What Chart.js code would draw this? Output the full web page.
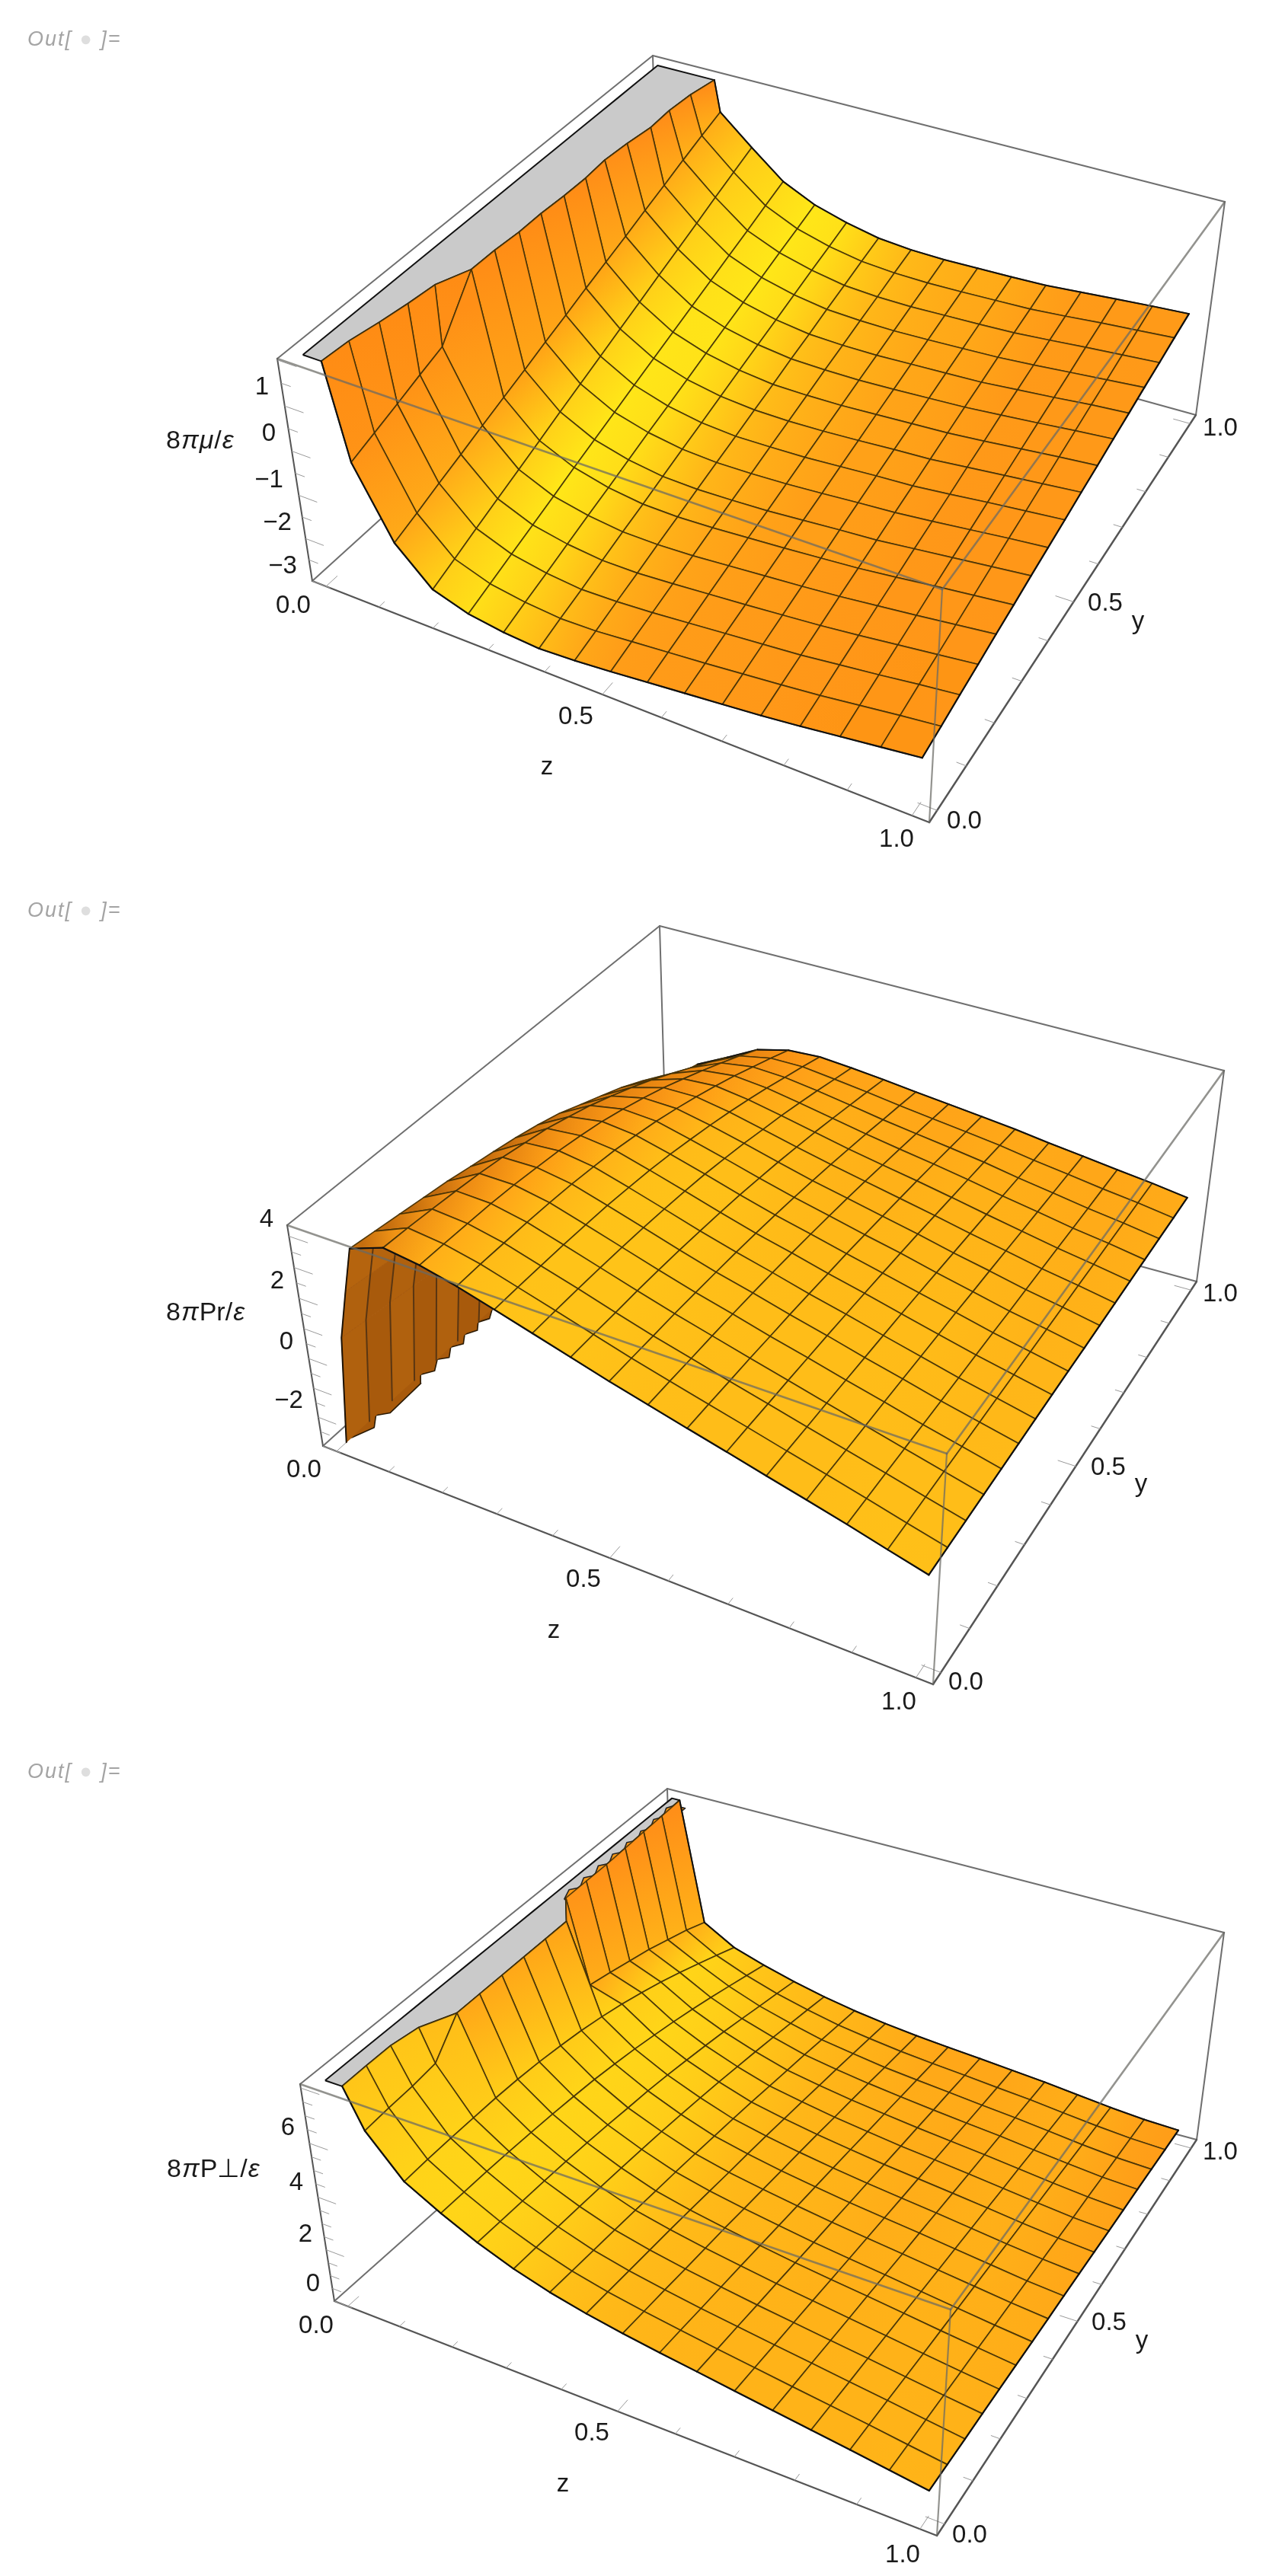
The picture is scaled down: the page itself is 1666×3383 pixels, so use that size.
<!DOCTYPE html>
<html>
<head>
<meta charset="utf-8">
<title>Out</title>
<script src="https://cdn.jsdelivr.net/npm/chart.js@4"></script>
<style>
  html, body { margin: 0; background: #fff; }
  #page { position: relative; width: 1666px; height: 3383px; overflow: hidden; }
  canvas { position: absolute; left: 0; }
  .out { position: absolute; left: 36px; font: italic 27px "Liberation Sans"; letter-spacing: 2px; color: #a4a4a4; }
  .out span { color: #dedede; }
</style>
</head>
<body>
<div id="page"></div>
<script>
// mesh positions along z (first rows of the Pr plot sit inside the drop at z -> 0)
var meshZ = [0.0625,0.125,0.1875,0.25,0.3125,0.375,0.4375,0.5,0.5625,0.625,0.6875,0.75,0.8125,0.875,0.9375,1];
var meshY = [0,0.0625,0.125,0.1875,0.25,0.3125,0.375,0.4375,0.5,0.5625,0.625,0.6875,0.75,0.8125,0.875,0.9375,1];
var dropZ = [0,0.022,0.043];

// 8 pi mu / epsilon, one row per meshZ, one column per meshY. 3 = above the plot range
var muValues = [
  [-0.06,0.12,0.30,0.49,0.67,3,3,3,3,3,3,3,3,3,3,3,3],
  [-1.60,-1.42,-1.23,-1.05,-0.86,-0.68,-0.50,-0.31,-0.13,0.06,0.24,0.42,0.61,0.79,0.98,1.16,1.33],
  [-2.38,-2.19,-1.99,-1.80,-1.61,-1.42,-1.22,-1.03,-0.84,-0.65,-0.46,-0.26,-0.07,0.12,0.32,0.51,0.70],
  [-2.64,-2.47,-2.30,-2.13,-1.96,-1.78,-1.61,-1.44,-1.27,-1.10,-0.93,-0.76,-0.59,-0.42,-0.25,-0.07,0.10],
  [-2.76,-2.60,-2.45,-2.29,-2.13,-1.98,-1.82,-1.66,-1.51,-1.35,-1.19,-1.03,-0.88,-0.72,-0.56,-0.41,-0.25],
  [-2.82,-2.67,-2.53,-2.38,-2.23,-2.09,-1.94,-1.79,-1.65,-1.50,-1.35,-1.20,-1.06,-0.91,-0.76,-0.62,-0.47],
  [-2.78,-2.65,-2.51,-2.38,-2.24,-2.11,-1.97,-1.84,-1.71,-1.57,-1.44,-1.30,-1.17,-1.03,-0.90,-0.76,-0.63],
  [-2.71,-2.58,-2.46,-2.33,-2.21,-2.08,-1.95,-1.83,-1.70,-1.58,-1.45,-1.32,-1.20,-1.07,-0.95,-0.82,-0.70],
  [-2.63,-2.51,-2.39,-2.27,-2.15,-2.03,-1.92,-1.80,-1.68,-1.56,-1.44,-1.32,-1.20,-1.08,-0.96,-0.84,-0.72],
  [-2.55,-2.44,-2.32,-2.21,-2.09,-1.98,-1.86,-1.75,-1.63,-1.52,-1.40,-1.29,-1.17,-1.06,-0.94,-0.83,-0.71],
  [-2.47,-2.36,-2.25,-2.14,-2.03,-1.92,-1.80,-1.69,-1.58,-1.47,-1.36,-1.25,-1.14,-1.03,-0.92,-0.81,-0.70],
  [-2.39,-2.28,-2.18,-2.07,-1.96,-1.86,-1.75,-1.64,-1.54,-1.43,-1.32,-1.21,-1.11,-1.00,-0.89,-0.79,-0.68],
  [-2.29,-2.19,-2.08,-1.98,-1.87,-1.77,-1.66,-1.56,-1.46,-1.35,-1.25,-1.14,-1.04,-0.94,-0.83,-0.73,-0.62],
  [-2.18,-2.08,-1.98,-1.88,-1.78,-1.67,-1.57,-1.47,-1.37,-1.27,-1.17,-1.07,-0.97,-0.87,-0.76,-0.66,-0.56],
  [-2.07,-1.97,-1.87,-1.78,-1.68,-1.58,-1.48,-1.38,-1.29,-1.19,-1.09,-0.99,-0.89,-0.80,-0.70,-0.60,-0.50],
  [-1.96,-1.87,-1.77,-1.68,-1.58,-1.49,-1.39,-1.30,-1.21,-1.11,-1.02,-0.92,-0.83,-0.73,-0.64,-0.54,-0.45]
];
// z where the mu surface leaves the top of the box, per meshY
var muClipZ = [0.033,0.037,0.047,0.055,0.061,0.085,0.086,0.09,0.09,0.093,0.094,0.091,0.095,0.102,0.1,0.104,0.114];

// 8 pi Pr / epsilon: the dropZ rows, then one row per meshZ
var prDrop = [
  [-3,-3,-3,-3,-3,-3,-3,-3,-3,-3,-3,-3,-3,-3,-3,-3,-3],
  [0.72,0.61,0.50,0.39,0.28,0.13,-0.01,-0.16,-0.34,-0.56,-0.86,-1.15,-1.45,-1.81,-2.25,-2.70,-2.92],
  [2.37,2.26,2.15,2.04,1.93,1.78,1.64,1.49,1.31,1.09,0.79,0.50,0.20,-0.16,-0.60,-1.05,-1.27]
];
var prValues = [
  [3.87,3.76,3.65,3.54,3.43,3.28,3.14,2.99,2.81,2.59,2.29,2.00,1.70,1.34,0.90,0.45,0.23],
  [4.28,4.24,4.18,4.11,4.03,3.92,3.77,3.62,3.40,3.17,2.89,2.59,2.26,1.90,1.52,1.14,0.75],
  [4.12,4.11,4.09,4.07,4.02,3.94,3.85,3.72,3.57,3.37,3.14,2.89,2.60,2.30,1.98,1.65,1.30],
  [3.85,3.86,3.85,3.84,3.81,3.76,3.68,3.59,3.45,3.30,3.11,2.90,2.67,2.42,2.14,1.86,1.56],
  [3.52,3.52,3.51,3.50,3.47,3.43,3.36,3.28,3.17,3.03,2.88,2.71,2.52,2.31,2.08,1.86,1.62],
  [3.18,3.18,3.17,3.15,3.12,3.08,3.02,2.95,2.86,2.74,2.61,2.45,2.30,2.12,1.93,1.73,1.53],
  [2.84,2.83,2.81,2.80,2.77,2.73,2.67,2.61,2.53,2.43,2.32,2.19,2.06,1.91,1.75,1.59,1.42],
  [2.50,2.49,2.47,2.46,2.43,2.39,2.35,2.29,2.22,2.14,2.04,1.94,1.82,1.70,1.56,1.43,1.29],
  [2.19,2.18,2.16,2.15,2.13,2.10,2.06,2.01,1.95,1.88,1.80,1.71,1.61,1.51,1.40,1.29,1.17],
  [1.88,1.87,1.85,1.84,1.81,1.79,1.75,1.71,1.67,1.61,1.55,1.48,1.41,1.33,1.24,1.15,1.05],
  [1.58,1.57,1.55,1.54,1.52,1.50,1.47,1.44,1.40,1.36,1.31,1.25,1.19,1.13,1.07,1.00,0.92],
  [1.27,1.26,1.24,1.23,1.21,1.19,1.17,1.15,1.12,1.08,1.04,1.00,0.96,0.91,0.86,0.81,0.76],
  [0.97,0.96,0.94,0.93,0.92,0.90,0.88,0.86,0.85,0.82,0.80,0.77,0.74,0.71,0.68,0.65,0.62],
  [0.66,0.65,0.64,0.63,0.61,0.60,0.59,0.58,0.57,0.55,0.54,0.53,0.52,0.50,0.49,0.48,0.47],
  [0.33,0.33,0.33,0.33,0.33,0.33,0.33,0.33,0.33,0.33,0.33,0.33,0.33,0.33,0.33,0.33,0.33],
  [0.01,0.02,0.03,0.04,0.05,0.06,0.07,0.08,0.09,0.09,0.10,0.11,0.12,0.13,0.14,0.15,0.16]
];
// where the Pr drop is cut by the floor of the box
var prFloorZ = [0,0.016,0,0.016,0.014,0,0.014,0,0.014,0,0.013,0,0.012,0,0.011,0,0.01];
var prFloorY = [0.013,0.053,0.08,0.097,0.186,0.205,0.225,0.253,0.267,0.292,0.31,0.333,0.353,0.373,0.391,0.415,0.432];

// 8 pi P_perp / epsilon. 9 = above the plot range
var ptValues = [
  [6.76,6.84,6.89,7.00,9,9,9,9,9,9,5.13,4.95,4.75,4.55,4.30,4.05,3.74],
  [5.35,5.39,5.41,5.42,5.42,5.39,5.33,5.23,5.11,4.95,4.76,4.53,4.28,4.00,3.70,3.39,3.07],
  [4.64,4.63,4.62,4.59,4.55,4.50,4.43,4.35,4.23,4.10,3.94,3.77,3.58,3.37,3.15,2.92,2.69],
  [4.02,3.99,3.96,3.93,3.89,3.83,3.76,3.67,3.59,3.48,3.35,3.21,3.06,2.89,2.71,2.54,2.36],
  [3.52,3.49,3.45,3.41,3.36,3.30,3.24,3.17,3.08,2.99,2.88,2.76,2.64,2.51,2.37,2.23,2.08],
  [3.13,3.08,3.03,2.98,2.92,2.86,2.80,2.73,2.65,2.57,2.48,2.38,2.28,2.18,2.07,1.96,1.85],
  [2.83,2.78,2.73,2.68,2.63,2.57,2.50,2.43,2.37,2.30,2.22,2.14,2.05,1.96,1.87,1.77,1.67],
  [2.59,2.54,2.49,2.43,2.38,2.33,2.26,2.20,2.13,2.07,2.00,1.92,1.85,1.77,1.68,1.60,1.52],
  [2.38,2.33,2.27,2.22,2.17,2.11,2.05,1.99,1.93,1.87,1.81,1.74,1.68,1.61,1.54,1.47,1.40],
  [2.19,2.13,2.08,2.02,1.97,1.91,1.85,1.80,1.74,1.69,1.63,1.57,1.52,1.46,1.41,1.35,1.29],
  [1.99,1.94,1.89,1.84,1.79,1.73,1.68,1.63,1.58,1.53,1.48,1.43,1.38,1.32,1.27,1.22,1.17],
  [1.80,1.75,1.71,1.66,1.61,1.57,1.52,1.47,1.43,1.38,1.33,1.28,1.24,1.19,1.14,1.10,1.05],
  [1.61,1.57,1.52,1.48,1.43,1.39,1.34,1.30,1.26,1.21,1.17,1.12,1.08,1.03,0.99,0.94,0.90],
  [1.42,1.38,1.34,1.29,1.25,1.21,1.17,1.13,1.09,1.04,1.00,0.96,0.92,0.88,0.83,0.79,0.75],
  [1.22,1.18,1.15,1.11,1.07,1.04,1.00,0.96,0.92,0.89,0.85,0.81,0.78,0.74,0.70,0.67,0.63],
  [1.02,0.99,0.96,0.94,0.91,0.88,0.85,0.82,0.80,0.77,0.74,0.71,0.68,0.66,0.63,0.60,0.57]
];
var ptClipZ = [0.031,0.03,0.03,0.038,0.066,0.066,0.066,0.066,0.066,0.066,0.024,0.024,0.024,0.022,0.02,0.018,0.016];
// saw edge of the P_perp surface against the top of the box
var ptSawZ = [0.024,0.014,0.026,0.014,0.026,0.014,0.026,0.014,0.026,0.014,0.026,0.014,0.024,0.012,0.022,0.01,0.018];
var ptSawY = [0.62,0.65,0.665,0.695,0.71,0.74,0.755,0.785,0.80,0.83,0.845,0.875,0.89,0.92,0.935,0.965,0.98];

// tick labels
var zTickLabels = ["0.0","0.5","1.0"];
var yTickLabels = ["0.0","0.5","1.0"];
var muTickLabels = ["1","0","\u22121","\u22122","\u22123"];
var prTickLabels = ["4","2","0","\u22122"];
var ptTickLabels = ["6","4","2","0"];
var axisTicks = [0,0.1,0.2,0.3,0.4,0.5,0.6,0.7,0.8,0.9,1];
var muTicks = [-3,-2.5,-2,-1.5,-1,-0.5,0,0.5,1,1.5,2];
var prTicks = [-3,-2.5,-2,-1.5,-1,-0.5,0,0.5,1,1.5,2,2.5,3,3.5,4];
var ptTicks = [0,0.5,1,1.5,2,2.5,3,3.5,4,4.5,5,5.5,6,6.5,7,7.5,8];

// surface colour per slope: orange on the flats, yellow on the mid slopes, orange on the walls
var muStops = [[0,150],[0.15,155],[0.35,175],[0.75,200],[1.1,232],[2,228],[3,185],[5,155],[12,140]];
var prStops = [[0,150],[0.3,165],[0.75,195],[1.1,205],[2,205],[3,185],[5,155],[12,140]];
var ptStops = [[0,150],[0.15,158],[0.35,178],[0.75,196],[1.1,213],[2,213],[7,188],[9,150],[12,140]];

// where each box sits on the page and how text is placed round it
var plots = [
  { top: 0, height: 1170, values: muValues, clipZ: muClipZ, vmin: -3, vmax: 2.03, vTicks: muTicks, stops: muStops,
    box: { t00:[364,471], t10:[1237,774], t01:[857,73], t11:[1608,265],
           b00:[410,763], b10:[1220,1080], b01:[865,350], b11:[1570,545] },
    title: [["8",0],["\u03c0",1],["\u03bc",1],["/",0],["\u03b5",1]], titlePos: [218,580],
    texts: [[zTickLabels[0],385,796],[zTickLabels[1],756,942],[zTickLabels[2],1177,1103],["z",718,1008],
            [yTickLabels[0],1266,1079],[yTickLabels[1],1451,793],[yTickLabels[2],1602,563],["y",1494,817]],
    vTexts: [[344,509],[353,570],[353,631],[364,687],[371,744]], vLabels: muTickLabels },
  { top: 1170, height: 1130, values: prValues, drop: prDrop, floorZ: prFloorZ, floorY: prFloorY,
    vmin: -3, vmax: 4.35, vTicks: prTicks, stops: prStops,
    box: { t00:[377,1609], t10:[1243,1909], t01:[866,1216], t11:[1607,1406],
           b00:[424,1899], b10:[1225,2212], b01:[874,1493], b11:[1571,1683] },
    title: [["8",0],["\u03c0",1],["Pr/",0],["\u03b5",1]], titlePos: [218,1725],
    texts: [[zTickLabels[0],399,1931],[zTickLabels[1],766,2075],[zTickLabels[2],1180,2236],["z",727,2142],
            [yTickLabels[0],1268,2210],[yTickLabels[1],1455,1928],[yTickLabels[2],1602,1700],["y",1498,1950]],
    vTexts: [[350,1602],[364,1683],[376,1763],[379,1840]], vLabels: prTickLabels },
  { top: 2300, height: 1083, values: ptValues, clipZ: ptClipZ, sawZ: ptSawZ, sawY: ptSawY,
    vmin: 0, vmax: 8.14, vTicks: ptTicks, stops: ptStops,
    box: { t00:[394,2737], t10:[1248,3033], t01:[876,2349], t11:[1607,2538],
           b00:[439,3022], b10:[1230,3330], b01:[884,2626], b11:[1571,2810] },
    title: [["8",0],["\u03c0",1],["P\u22a5/",0],["\u03b5",1]], titlePos: [219,2850],
    texts: [[zTickLabels[0],415,3055],[zTickLabels[1],777,3196],[zTickLabels[2],1185,3356],["z",739,3263],
            [yTickLabels[0],1273,3330],[yTickLabels[1],1456,3051],[yTickLabels[2],1602,2827],["y",1499,3075]],
    vTexts: [[378,2795],[389,2867],[401,2935],[411,3000]], vLabels: ptTickLabels }
];
var outTops = [36, 1180, 2311];

var PAD = 0.025, SPAN = 0.95;
var PERSP_Z = -0.113, PERSP_Y = 0.16, PERSP_V = -0.05;
var LINE_BOX = "#6f6f6f", LINE_MESH = "rgba(62,46,6,0.85)";

function project(p, zb, yb, f) {
  var sx = 0, sy = 0, sw = 0;
  [0,1].forEach(function (iz) { [0,1].forEach(function (iy) { [0,1].forEach(function (iv) {
    var c = (iz ? zb : 1 - zb) * (iy ? yb : 1 - yb) * (iv ? f : 1 - f);
    var w = c * (1 + PERSP_Z * iz + PERSP_Y * iy + PERSP_V * iv);
    var corner = p.box[(iv ? "t" : "b") + iz + iy];
    sx += w * corner[0]; sy += w * corner[1]; sw += w;
  }); }); });
  return { x: sx / sw, y: sy / sw };
}
function toFrac(p, v) { return (v - p.vmin) / (p.vmax - p.vmin); }
function dataPoint(p, z, y, v) { return project(p, PAD + SPAN * z, PAD + SPAN * y, toFrac(p, v)); }

function lineSet(points, color, width) {
  return { data: points, showLine: true, fill: false, pointRadius: 0, tension: 0,
           borderColor: color, borderWidth: width, borderCapStyle: "round", borderJoinStyle: "round" };
}
function polySet(points, fillColor, edge, width) {
  return { data: points.concat([points[0]]), showLine: true, fill: "shape", pointRadius: 0, tension: 0,
           backgroundColor: fillColor, borderColor: edge, borderWidth: width, borderJoinStyle: "round" };
}

function shade(stops, s) {
  if (s < 0) {
    var t = Math.min(1, -s / 3);
    return [255 - 87 * t, 150 - 60 * t, 20 - 8 * t];
  }
  for (var i = 1; i < stops.length; i++) {
    if (s <= stops[i][0]) {
      var a = stops[i-1], b = stops[i];
      return [255, a[1] + (b[1] - a[1]) * (s - a[0]) / (b[0] - a[0]), 24];
    }
  }
  return [255, 140, 20];
}
function rgb(c) { return "rgb(" + Math.round(c[0]) + "," + Math.round(c[1]) + "," + Math.round(c[2]) + ")"; }
function mix(a, b) { return [(a[0]+b[0])/2, (a[1]+b[1])/2, (a[2]+b[2])/2]; }

function buildDatasets(p, ctx) {
  var sets = [];
  var b = p.box;
  function seg(a, c, color, width) {
    return lineSet([{x:a[0],y:a[1]},{x:c[0],y:c[1]}], color, width);
  }
  // box edges behind the surface
  sets.push(seg(b.t00,b.t01,LINE_BOX,2), seg(b.t01,b.t11,LINE_BOX,2), seg(b.t01,b.b01,LINE_BOX,2),
            seg(b.t11,b.b11,LINE_BOX,2), seg(b.b01,b.b11,LINE_BOX,2), seg(b.b00,b.b01,LINE_BOX,2),
            seg(b.t00,b.b00,"#555",2), seg(b.b00,b.b10,"#555",2.4), seg(b.b10,b.b11,"#555",2.4));
  // ticks
  axisTicks.forEach(function (t, i) {
    var len = (i % 5 === 0) ? 0.028 : 0.014, q = PAD + SPAN * t;
    sets.push(lineSet([project(p,q,0,0),project(p,q,len,0)],"#999",1));
    sets.push(lineSet([project(p,1,q,0),project(p,1-len,q,0)],"#999",1));
  });
  p.vTicks.forEach(function (v) {
    var len = (p.vmin === 0 ? v % 2 === 0 : v % 1 === 0) ? 0.032 : 0.016;
    sets.push(lineSet([project(p,0,0,toFrac(p,v)),project(p,len,0,toFrac(p,v))],"#999",1));
  });

  var rows = [], zs = [];
  if (p.clipZ) {
    // grey cap where the surface is cut by the top of the box
    var cap = [];
    meshY.forEach(function (y) { cap.push(dataPoint(p, 0, y, p.vmax)); });
    for (var j = meshY.length - 1; j >= 0; j--) cap.push(dataPoint(p, p.clipZ[j], meshY[j], p.vmax));
    sets.push(polySet(cap, "#cacaca", "#111", 2));
    if (p.sawZ) {
      var saw = p.sawZ.map(function (z, i) { return dataPoint(p, z, p.sawY[i], p.vmax); });
      saw.push(dataPoint(p, 0.04, 0.98, p.vmax), dataPoint(p, 0.04, 0.62, p.vmax));
      sets.push(polySet(saw, "#ff9a14", "#222", 1.6));
    }
    rows.push(meshY.map(function () { return p.vmax + 1; }));
    zs.push(0);
  }
  var dropRows = 0;
  if (p.drop) {
    // brown underside of the drop near z = 0
    var floor = p.floorZ.map(function (z, i) { return dataPoint(p, z, p.floorY[i], p.vmin); });
    floor.push(dataPoint(p, 0.03, 0.43, p.vmin + 1.5), dataPoint(p, 0.03, 0.01, p.vmin + 1.5));
    sets.push(polySet(floor, "#a85a0c", "#2a1a04", 1.6));
    p.drop.forEach(function (r, i) { rows.push(r); zs.push(dropZ[i]); });
    dropRows = p.drop.length;
  }
  p.values.forEach(function (r, i) { rows.push(r); zs.push(meshZ[i]); });

  var n = rows.length, m = meshY.length;
  function node(k, j) {
    var z = zs[k], v = rows[k][j];
    if (p.clipZ && (v >= p.vmax || z < p.clipZ[j])) { z = p.clipZ[j]; v = p.vmax; }
    return { z: z, v: v, pt: dataPoint(p, z, meshY[j], v) };
  }
  var grid = [];
  for (var k = 0; k < n; k++) { grid.push([]); for (var j2 = 0; j2 < m; j2++) grid[k].push(node(k, j2)); }

  // slopes of each cell pick its colour
  function cellColor(k, j) {
    var range = p.vmax - p.vmin;
    var dz = ((grid[k+1][j].z - grid[k][j].z) + (grid[k+1][j+1].z - grid[k][j+1].z)) / 2;
    var df = ((grid[k][j].v - grid[k+1][j].v) + (grid[k][j+1].v - grid[k+1][j+1].v)) / 2 / range;
    if (dz < 0.0005) return shade(p.stops, 12);
    var dy = ((grid[k][j+1].v - grid[k][j].v) + (grid[k+1][j+1].v - grid[k+1][j].v)) / 2 / range / 0.0625;
    return shade(p.stops, df / dz + Math.max(0, Math.min(dy, 1.2)));
  }
  function quad(k, j, edge, width) {
    var a = grid[k][j].pt, c = grid[k][j+1].pt, d = grid[k+1][j+1].pt, e = grid[k+1][j].pt;
    var from = k > 0 ? mix(cellColor(k-1, j), cellColor(k, j)) : cellColor(k, j);
    var to = k < n - 2 ? mix(cellColor(k, j), cellColor(k+1, j)) : cellColor(k, j);
    var g = ctx.createLinearGradient((a.x + c.x) / 2, (a.y + c.y) / 2 - p.top, (d.x + e.x) / 2, (d.y + e.y) / 2 - p.top);
    g.addColorStop(0, rgb(from));
    g.addColorStop(1, rgb(to));
    return polySet([a, c, d, e], g, edge, width);
  }
  // far cells first
  var first = dropRows;
  for (var jd = m - 2; jd >= 0; jd--) {
    for (var kd = 0; kd < dropRows; kd++) {
      var cq = quad(kd, jd, "#a85a0c", 1);
      cq.backgroundColor = kd === dropRows - 1 ? "#b5640e" : (jd % 2 ? "#a85a0c" : "#b0610e");
      sets.push(cq);
    }
  }
  if (dropRows) {
    for (var jl = 0; jl < 8; jl++) {
      var pts = [];
      for (var kl = 0; kl <= dropRows; kl++) pts.push(grid[kl][jl].pt);
      sets.push(lineSet(pts, jl === 0 ? "#1c1206" : "rgba(70,45,20,0.8)", 2));
    }
  }
  for (var j3 = m - 2; j3 >= 0; j3--) {
    for (var k3 = first; k3 < n - 1; k3++) {
      sets.push(quad(k3, j3, LINE_MESH, 1.7));
      if (j3 === m - 2) sets.push(lineSet([grid[k3][j3+1].pt, grid[k3+1][j3+1].pt], "#111", 2));
      if (j3 === 0) sets.push(lineSet([grid[k3][0].pt, grid[k3+1][0].pt], "#111", 2.2));
      if (k3 === n - 2) sets.push(lineSet([grid[k3+1][j3].pt, grid[k3+1][j3+1].pt], "#111", 2.2));
    }
  }
  // box edges in front, see-through
  var veil = "rgba(105,105,100,0.72)";
  sets.push(seg(b.t00,b.t10,veil,2.6), seg(b.t10,b.t11,veil,2.6), seg(b.t10,b.b10,veil,2.2));
  return sets.reverse();  // chart.js paints the first dataset last
}

var textPlugin = {
  id: "plotText",
  afterDraw: function (chart) {
    var p = chart.options.plugins.plotText.plot;
    var ctx = chart.ctx;
    ctx.save();
    ctx.fillStyle = "#1a1a1a";
    ctx.textAlign = "center";
    ctx.textBaseline = "middle";
    ctx.font = '33px "Liberation Sans"';
    p.texts.forEach(function (t) { ctx.fillText(t[0], t[1], t[2] - p.top); });
    p.vTexts.forEach(function (t, i) { ctx.fillText(p.vLabels[i], t[0], t[1] - p.top); });
    ctx.textAlign = "left";
    var x = p.titlePos[0];
    p.title.forEach(function (piece) {
      ctx.font = (piece[1] ? "italic " : "") + '34px "Liberation Sans"';
      ctx.fillText(piece[0], x, p.titlePos[1] - p.top);
      x += ctx.measureText(piece[0]).width + 1;
    });
    ctx.restore();
  }
};

var page = document.getElementById("page");
plots.forEach(function (p, i) {
  var canvas = document.createElement("canvas");
  canvas.width = 1666;
  canvas.height = p.height;
  canvas.style.top = p.top + "px";
  canvas.style.width = "1666px";
  canvas.style.height = p.height + "px";
  page.appendChild(canvas);
  var ctx = canvas.getContext("2d");
  new Chart(ctx, {
    type: "scatter",
    data: { datasets: buildDatasets(p, ctx) },
    options: {
      responsive: false,
      animation: false,
      events: [],
      layout: { padding: 0 },
      scales: {
        x: { type: "linear", display: false, min: 0, max: 1666 },
        y: { type: "linear", display: false, min: p.top, max: p.top + p.height, reverse: true }
      },
      plugins: { legend: { display: false }, tooltip: { enabled: false }, plotText: { plot: p } }
    },
    plugins: [textPlugin]
  });
  var out = document.createElement("div");
  out.className = "out";
  out.style.top = outTops[i] + "px";
  out.innerHTML = "Out[ <span>\u25cf</span> ]=";
  page.appendChild(out);
});
</script>
</body>
</html>
